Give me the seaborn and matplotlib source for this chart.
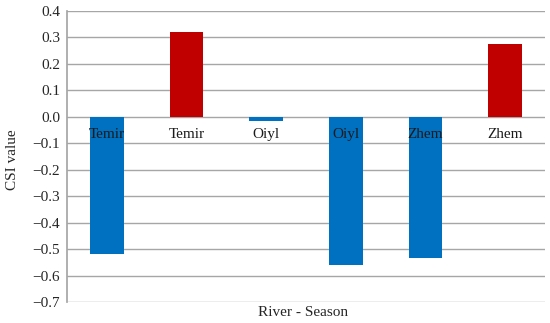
import matplotlib
matplotlib.use("Agg")
import matplotlib.pyplot as plt
import matplotlib.transforms as mtransforms
import seaborn as sns
import pandas as pd
import numpy as np

categories = ["Temir", "Temir ", "Oiyl", "Oiyl ", "Zhem", "Zhem "]
labels = ["Temir", "Temir", "Oiyl", "Oiyl", "Zhem", "Zhem"]
csi_values = [-0.52, 0.32, -0.015, -0.56, -0.535, 0.275]
bar_colors = ["#0070C0", "#C00000", "#0070C0", "#0070C0", "#0070C0", "#C00000"]

sns.set_theme(style="white")
plt.rcParams['font.family'] = ['Liberation Serif', 'DejaVu Serif']

df = pd.DataFrame({"cat": categories, "val": csi_values})

fig = plt.figure(figsize=(5.5, 3.23), dpi=100)
ax = fig.add_axes([67/550, 1 - 302/323, (545-67)/550, (302-11)/323])

sns.barplot(data=df, x="cat", y="val", hue="cat", palette=dict(zip(categories, bar_colors)),
            order=categories, width=0.42, legend=False, ax=ax, saturation=1, linewidth=0)

ax.set_ylim(-0.7, 0.4)
ax.set_xlim(-0.5, 5.5)
yt = np.round(np.arange(-0.7, 0.41, 0.1), 1)
ax.set_yticks(yt)
ax.set_yticklabels([("0.0" if abs(v) < 1e-9 else f"{v:.1f}".replace("-", "\u2212")) for v in yt],
                   fontsize=11)
ax.yaxis.grid(True, color="#A6A6A6", linewidth=1)
ax.set_axisbelow(True)
for s in ["top", "right", "bottom"]:
    ax.spines[s].set_visible(False)
ax.spines["left"].set_color("#A6A6A6")
ax.tick_params(axis="both", length=0, pad=5)
ax.set_xticks(range(len(categories)))
ax.set_xticklabels([])
ax.set_xlabel("")
ax.set_ylabel("")

offset = mtransforms.offset_copy(ax.transData, fig=fig, x=0, y=-13, units="points")
for i, lab in enumerate(labels):
    ax.text(i, 0, lab, transform=offset, ha="center", va="center", fontsize=11,
            color="#1a1a1a", zorder=10)

fig.text(303/550, 1 - 313/323, "River - Season", ha="center", va="center", fontsize=11)
fig.text(12/550, 1 - 160/323, "CSI value", rotation=90, ha="center", va="center", fontsize=11)

fig.savefig("out.png", dpi=100)
